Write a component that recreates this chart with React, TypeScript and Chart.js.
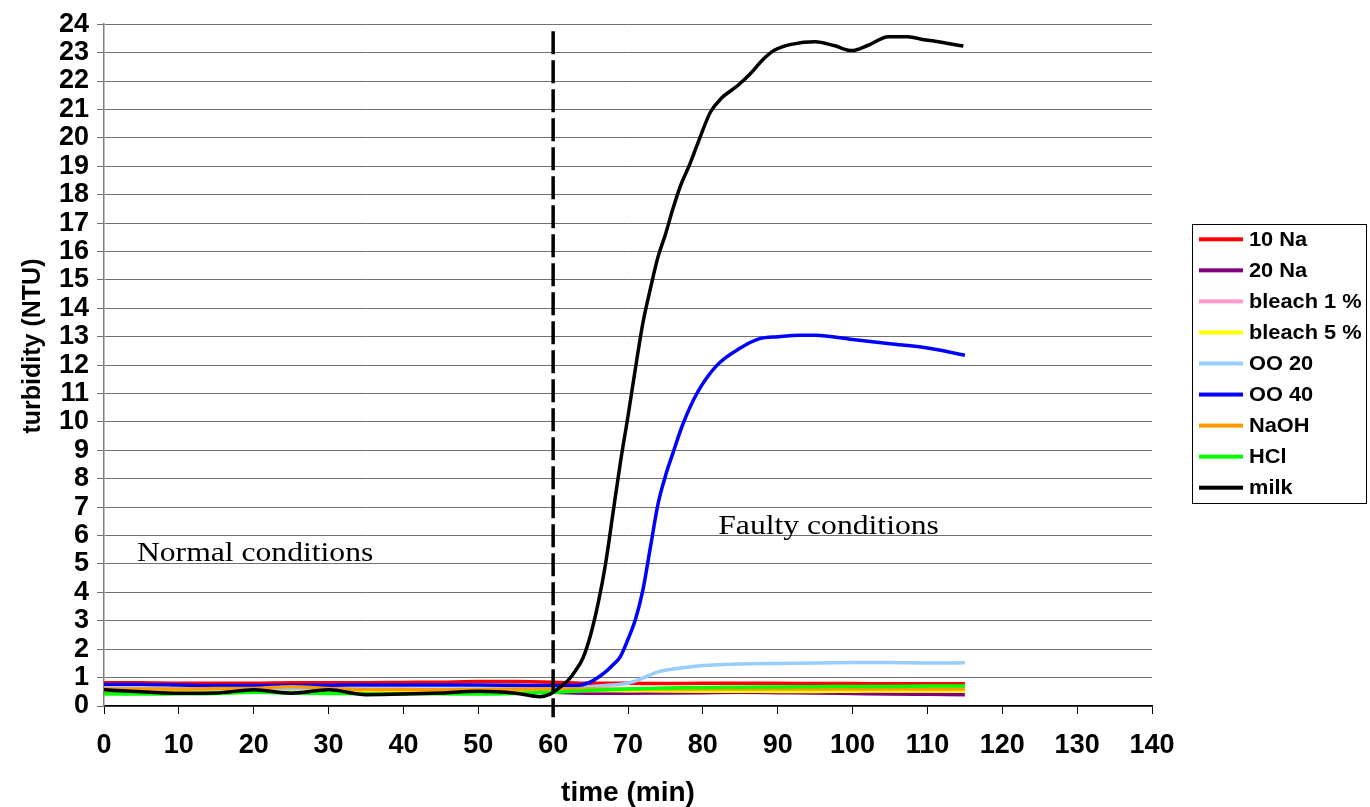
import React, { useEffect, useRef } from "react";
import { Chart, registerables } from "chart.js";

Chart.register(...registerables);

// ---------- data ----------
const SERIES_NAMES = ["10 Na", "20 Na", "bleach 1 %", "bleach 5 %", "OO 20", "OO 40", "NaOH", "HCl", "milk"];
const SERIES_COLORS = ["#FF0000", "#800080", "#FF99CC", "#FFFF00", "#99CCFF", "#0000FF", "#FF9900", "#00FF00", "#000000"];

const TIME_5 = [0, 5, 10, 15, 20, 25, 30, 35, 40, 45, 50, 55, 60, 65, 70, 75, 80, 85, 90, 95, 100, 105, 110, 115];

const NA10 = [0.82, 0.82, 0.8, 0.8, 0.8, 0.82, 0.82, 0.82, 0.83, 0.84, 0.86, 0.86, 0.84, 0.8, 0.8, 0.79, 0.8, 0.8, 0.8, 0.79, 0.79, 0.78, 0.78, 0.78];
const NA20 = [0.5, 0.5, 0.5, 0.5, 0.5, 0.5, 0.5, 0.5, 0.5, 0.5, 0.5, 0.5, 0.48, 0.45, 0.45, 0.46, 0.47, 0.48, 0.47, 0.46, 0.44, 0.42, 0.41, 0.4];
const BLEACH1 = [0.55, 0.55, 0.55, 0.55, 0.56, 0.6, 0.56, 0.55, 0.55, 0.55, 0.55, 0.55, 0.55, 0.55, 0.55, 0.56, 0.56, 0.56, 0.56, 0.55, 0.55, 0.55, 0.55, 0.55];
const BLEACH5 = [0.55, 0.55, 0.55, 0.55, 0.55, 0.55, 0.55, 0.55, 0.55, 0.55, 0.55, 0.55, 0.55, 0.55, 0.54, 0.53, 0.52, 0.52, 0.51, 0.51, 0.52, 0.53, 0.53, 0.53];
const NAOH = [0.6, 0.6, 0.6, 0.62, 0.62, 0.68, 0.62, 0.58, 0.58, 0.57, 0.58, 0.6, 0.6, 0.6, 0.6, 0.6, 0.6, 0.6, 0.6, 0.6, 0.6, 0.6, 0.6, 0.6];
const HCL = [0.42, 0.42, 0.43, 0.44, 0.48, 0.46, 0.44, 0.43, 0.43, 0.43, 0.42, 0.44, 0.48, 0.55, 0.6, 0.63, 0.65, 0.66, 0.67, 0.68, 0.69, 0.69, 0.7, 0.7];

const OO20_TIME = [0, 5, 10, 15, 20, 25, 30, 35, 40, 45, 50, 55, 60, 65, 67, 70, 72, 74, 76, 79, 85, 90, 95, 100, 105, 110, 115];
const OO20 = [0.6, 0.6, 0.6, 0.6, 0.6, 0.6, 0.6, 0.6, 0.6, 0.6, 0.6, 0.6, 0.6, 0.68, 0.72, 0.8, 0.98, 1.2, 1.3, 1.4, 1.48, 1.5, 1.51, 1.53, 1.53, 1.51, 1.52];

const OO40_TIME = [0, 5, 10, 15, 20, 25, 30, 35, 40, 45, 50, 55, 60, 63, 65, 67, 68, 69, 70, 71, 72, 73, 74, 75, 76, 77.3, 79.2, 81.9, 85, 87.6, 90, 93, 95, 100, 105, 110, 115];
const OO40 = [0.76, 0.76, 0.74, 0.72, 0.72, 0.73, 0.73, 0.74, 0.74, 0.74, 0.74, 0.73, 0.72, 0.72, 0.85, 1.2, 1.45, 1.75, 2.35, 3.05, 4.1, 5.6, 7.1, 8.1, 8.9, 9.9, 11, 12, 12.6, 12.93, 13.0, 13.05, 13.05, 12.9, 12.75, 12.6, 12.35];

const MILK_TIME = [0, 5, 10, 15, 20, 25, 30, 35, 40, 45, 50, 55, 58.2, 59.6, 61, 62, 63, 64, 65, 66, 67, 68, 69, 70, 71, 72, 73, 74, 75, 76, 77, 78.3, 79.6, 81, 82.5, 84.7, 86.5, 88, 89.6, 92, 95, 97.5, 99.9, 102, 104.8, 107.4, 109.5, 111, 114.8];
const MILK = [0.57, 0.5, 0.45, 0.46, 0.57, 0.45, 0.57, 0.4, 0.42, 0.46, 0.52, 0.45, 0.33, 0.42, 0.68, 0.9, 1.25, 1.7, 2.5, 3.6, 5.0, 6.8, 8.6, 10.2, 11.9, 13.5, 14.7, 15.8, 16.6, 17.5, 18.3, 19.1, 20.0, 20.9, 21.4, 21.85, 22.3, 22.75, 23.09, 23.3, 23.38, 23.25, 23.07, 23.25, 23.56, 23.56, 23.45, 23.4, 23.23];

const SERIES_TIMES = [TIME_5, TIME_5, TIME_5, TIME_5, OO20_TIME, OO40_TIME, TIME_5, TIME_5, MILK_TIME];
const SERIES_VALUES = [NA10, NA20, BLEACH1, BLEACH5, OO20, OO40, NAOH, HCL, MILK];

// vertical divider between normal and faulty conditions
const DIVIDER_X = [60, 60];
const DIVIDER_Y = [23.75, -0.4];

const X_MIN = 0, X_MAX = 140, X_STEP = 10;
const Y_MIN = 0, Y_MAX = 24, Y_STEP = 1;

const X_TITLE = "time (min)";
const Y_TITLE = "turbidity (NTU)";

const ANNOTATION_TEXTS = ["Normal conditions", "Faulty conditions"];
const ANNOTATION_X = [4.4, 82.06];
const ANNOTATION_Y = [5.09, 6.05];

const SANS = "'Liberation Sans', Arial, sans-serif";
const SERIF = "'Liberation Serif', 'Times New Roman', serif";

const overlayPlugin = {
  id: "overlay",
  afterDatasetsDraw(chart: any) {
    const ctx = chart.ctx;
    const xs = chart.scales.x;
    const ys = chart.scales.y;

    // y axis title
    ctx.save();
    ctx.translate(33, 346);
    ctx.rotate(-Math.PI / 2);
    ctx.fillStyle = "#000";
    ctx.font = `bold 25px ${SANS}`;
    ctx.textAlign = "center";
    ctx.textBaseline = "middle";
    ctx.fillText(Y_TITLE, 0, 0);
    ctx.restore();

    // annotations
    ctx.save();
    ctx.fillStyle = "#000";
    ctx.font = `28px ${SERIF}`;
    ctx.textBaseline = "alphabetic";
    ctx.textAlign = "left";
    ANNOTATION_TEXTS.forEach((t, i) => {
      const px = xs.getPixelForValue(ANNOTATION_X[i]);
      const py = ys.getPixelForValue(ANNOTATION_Y[i]);
      ctx.save();
      ctx.translate(px, py);
      ctx.scale(1.13, 1);
      ctx.fillText(t, 0, 0);
      ctx.restore();
    });
    ctx.restore();

    // legend
    const items = chart.data.datasets.filter((d: any) => !d.isDivider);
    const boxL = 1192, boxT = 224, boxR = 1367, boxB = 504;
    ctx.save();
    ctx.fillStyle = "#fff";
    ctx.fillRect(boxL, boxT, boxR - boxL, boxB - boxT);
    ctx.strokeStyle = "#000";
    ctx.lineWidth = 1;
    ctx.strokeRect(boxL + 0.5, boxT + 0.5, boxR - boxL - 1, boxB - boxT - 1);
    const firstY = 239.3, step = 31.05;
    items.forEach((d: any, i: number) => {
      const cy = firstY + i * step;
      ctx.fillStyle = d.borderColor;
      ctx.fillRect(1199, cy - 2, 44, 4);
      ctx.save();
      ctx.translate(1249, cy);
      ctx.scale(1.09, 1);
      ctx.fillStyle = "#000";
      ctx.font = `bold 20px ${SANS}`;
      ctx.textBaseline = "middle";
      ctx.textAlign = "left";
      ctx.fillText(d.label, 0, 1);
      ctx.restore();
    });
    ctx.restore();
  },
};

export default function App() {
  const canvasRef = useRef<HTMLCanvasElement | null>(null);

  useEffect(() => {
    if (!canvasRef.current) return;
    const datasets: any[] = SERIES_NAMES.map((name, i) => ({
      label: name,
      data: SERIES_TIMES[i].map((t, j) => ({ x: t, y: SERIES_VALUES[i][j] })),
      borderColor: SERIES_COLORS[i],
      backgroundColor: SERIES_COLORS[i],
      borderWidth: 3.5,
      pointRadius: 0,
      fill: false,
      cubicInterpolationMode: "monotone",
      order: 20 - i,
    }));
    datasets.push({
      label: "divider",
      isDivider: true,
      data: DIVIDER_X.map((x, j) => ({ x, y: DIVIDER_Y[j] })),
      borderColor: "#000",
      backgroundColor: "#000",
      borderWidth: 3.5,
      borderDash: [23, 6],
      pointRadius: 0,
      fill: false,
      clip: false,
      order: -1,
    });

    const chart = new Chart(canvasRef.current, {
      type: "line",
      data: { datasets },
      options: {
        animation: false,
        responsive: false,
        devicePixelRatio: 1,
        layout: { padding: { left: 0, top: 21, right: 218, bottom: 0 } },
        plugins: {
          legend: { display: false },
          tooltip: { enabled: false },
          title: { display: false },
        },
        scales: {
          x: {
            type: "linear",
            min: X_MIN,
            max: X_MAX,
            ticks: {
              stepSize: X_STEP,
              color: "#000",
              font: { family: SANS, size: 27, weight: "bold" },
              padding: 15,
              maxRotation: 0,
              autoSkip: false,
            },
            grid: { drawOnChartArea: false, drawTicks: true, tickLength: 8, color: "#000" },
            border: { color: "#000", width: 1.5 },
            title: {
              display: true,
              text: X_TITLE,
              color: "#000",
              font: { family: SANS, size: 28, weight: "bold", lineHeight: 1 },
              padding: { top: 0, bottom: 0 },
            },
            afterFit: (s: any) => {
              s.height = 101;
            },
          },
          y: {
            type: "linear",
            min: Y_MIN,
            max: Y_MAX,
            ticks: {
              stepSize: Y_STEP,
              color: "#000",
              font: { family: SANS, size: 27, weight: "bold" },
              padding: 8,
              autoSkip: false,
            },
            grid: { color: "#707070", lineWidth: 1, tickLength: 7 },
            border: { color: "#808080", width: 1.5 },
            title: { display: false },
            afterFit: (s: any) => {
              s.width = 104;
            },
          },
        },
      } as any,
      plugins: [overlayPlugin],
    });
    return () => chart.destroy();
  }, []);

  return (
    <div style={{ position: "absolute", left: 0, top: 0, width: 1370, height: 807, background: "#fff" }}>
      <canvas ref={canvasRef} width={1370} height={807} style={{ display: "block" }} />
    </div>
  );
}
